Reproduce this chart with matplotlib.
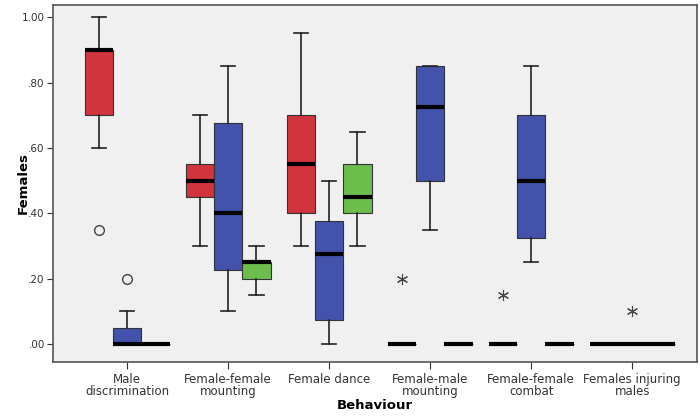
import numpy as np
from matplotlib import pyplot as plt
from matplotlib.ticker import FuncFormatter

categories = ["Male\ndiscrimination", "Female-female\nmounting", "Female dance",
              "Female-male\nmounting", "Female-female\ncombat", "Females injuring\nmales"]

# per group: [red, blue, green] -> (whislo, q1, med, q3, whishi)
red_stats = [(0.60, 0.70, 0.90, 0.90, 1.00),
             (0.30, 0.45, 0.50, 0.55, 0.70),
             (0.30, 0.40, 0.55, 0.70, 0.95),
             (0.00, 0.00, 0.00, 0.00, 0.00),
             (0.00, 0.00, 0.00, 0.00, 0.00),
             (0.00, 0.00, 0.00, 0.00, 0.00)]
blue_stats = [(0.00, 0.00, 0.00, 0.05, 0.10),
              (0.10, 0.225, 0.40, 0.675, 0.85),
              (0.00, 0.075, 0.275, 0.375, 0.50),
              (0.35, 0.50, 0.725, 0.85, 0.85),
              (0.25, 0.325, 0.50, 0.70, 0.85),
              (0.00, 0.00, 0.00, 0.00, 0.00)]
green_stats = [(0.00, 0.00, 0.00, 0.00, 0.00),
               (0.15, 0.20, 0.25, 0.25, 0.30),
               (0.30, 0.40, 0.45, 0.55, 0.65),
               (0.00, 0.00, 0.00, 0.00, 0.00),
               (0.00, 0.00, 0.00, 0.00, 0.00),
               (0.00, 0.00, 0.00, 0.00, 0.00)]

# outliers: (group index, series index 0=red 1=blue 2=green, value)
circle_outliers = [(0, 0, 0.35), (0, 1, 0.20)]
star_outliers = [(3, 0, 0.20), (4, 0, 0.15), (5, 1, 0.10)]

colors = ["#d2343e", "#4352aa", "#6cbd4c"]
offset = 0.28
width = 0.28

fig = plt.figure(figsize=(7, 4.19), dpi=100)
ax = fig.add_axes([0.076, 0.136, 0.92, 0.852])
ax.set_facecolor("#f0f0f0")

for s, (stats, col) in enumerate(zip([red_stats, blue_stats, green_stats], colors)):
    bxp_stats = []
    for lo, q1, med, q3, hi in stats:
        bxp_stats.append(dict(whislo=lo, q1=q1, med=med, q3=q3, whishi=hi, fliers=[]))
    pos = np.arange(1, len(categories) + 1) + (s - 1) * offset
    ax.bxp(bxp_stats, positions=pos, widths=width, patch_artist=True, showfliers=False,
           boxprops=dict(facecolor=col, edgecolor="#333333", linewidth=0.8),
           medianprops=dict(color="black", linewidth=3, solid_capstyle="butt"),
           whiskerprops=dict(color="#222222", linewidth=1.2),
           capprops=dict(color="#222222", linewidth=1.2),
           capwidths=width * 0.5, manage_ticks=False)

for g, s, v in circle_outliers:
    ax.plot(g + 1 + (s - 1) * offset, v, "o", mfc="none", mec="#444444", ms=7, mew=1)
for g, s, v in star_outliers:
    ax.plot(g + 1 + (s - 1) * offset, v, marker=(6, 2, 0), color="#444444", ms=8, mew=0.8)

ax.set_xlim(0.267, 6.644)
ax.set_ylim(-0.055, 1.037)
ax.set_yticks(np.arange(0, 1.01, 0.2))
ax.yaxis.set_major_formatter(FuncFormatter(lambda v, p: ("%.2f" % v).lstrip("0") if v < 1 else "%.2f" % v))
ax.set_xticks(np.arange(1, len(categories) + 1))
ax.set_xticklabels(categories, fontsize=8.5, color="#333333", linespacing=0.9)
ax.tick_params(axis="y", labelsize=7.5, colors="#333333", length=4, pad=2)
ax.tick_params(axis="x", length=5, colors="#333333", pad=3)
for sp in ax.spines.values():
    sp.set_color("#555555")
    sp.set_linewidth(1.2)

ax.set_ylabel("Females", fontsize=9.5, fontweight="bold")
ax.yaxis.set_label_coords(-0.036, 0.5)
ax.set_xlabel("Behaviour", fontsize=9.5, fontweight="bold")
ax.xaxis.set_label_coords(0.5, -0.105)

plt.savefig("out.png", dpi=100)
